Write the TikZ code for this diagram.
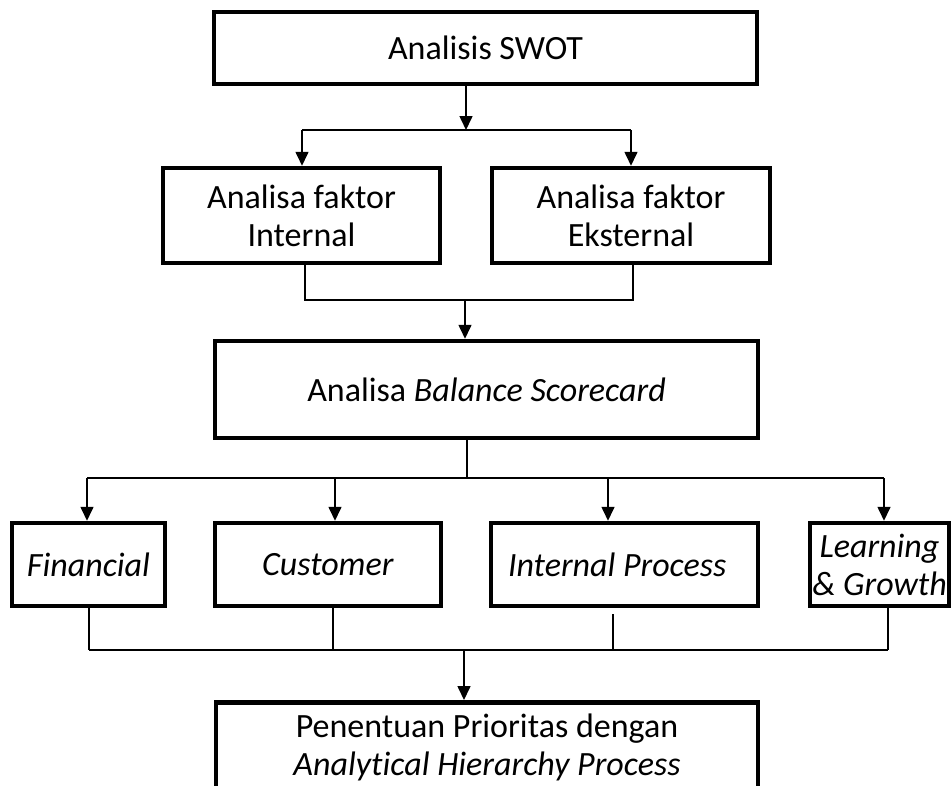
\documentclass[tikz,border=0pt]{standalone}
\usepackage{fontspec}
\setmainfont[Ligatures=NoCommon]{Carlito}
\usetikzlibrary{arrows.meta}
\begin{document}
\begin{tikzpicture}[x=1pt,y=-1pt,
  box/.style={draw,line width=4.5pt,inner sep=0pt,font=\fontsize{34}{38}\selectfont,align=center},
  conn/.style={line width=1.6pt},
  arr/.style={conn,-{Triangle[width=13pt,length=14pt]}}]
\useasboundingbox (0,0) rectangle (952,785);
\clip (0,0) rectangle (952,785);
% boxes
\node[box,minimum width=543pt,minimum height=72pt] (swot) at (485.5,48) {Analisis SWOT};
\node[box,minimum width=277pt,minimum height=95pt] (int) at (301.5,215.5) {Analisa faktor\\Internal};
\node[box,minimum width=278pt,minimum height=95pt] (ext) at (631,215.5) {Analisa faktor\\Eksternal};
\node[box,minimum width=543pt,minimum height=97pt] (bsc) at (486.5,389.5) {Analisa \textit{Balance Scorecard}};
\node[box,minimum width=153pt,minimum height=83pt] (fin) at (88.5,564.5) {\textit{Financial}};
\node[box,minimum width=226pt,minimum height=83pt] (cus) at (328,564.5) {\textit{Customer}};
\node[box,minimum width=267pt,minimum height=83pt] (ip) at (624.5,564.5) {\makebox[233pt][l]{\textit{Internal Process}}};
\node[box,minimum width=139pt,minimum height=83pt] (lg) at (879.5,564.5) {\textit{Learning}\\\textit{\& Growth}};
\node[box,minimum width=542pt,minimum height=91pt,anchor=north] (ahp) at (487,700) {Penentuan Prioritas dengan\\\textit{Analytical Hierarchy Process}};
% connectors: SWOT -> faktor
\coordinate (j1) at (466,130);
\coordinate (jL) at (302,130);
\coordinate (jR) at (631,130);
\draw[arr] (swot.south -| j1) -- (j1);
\draw[conn] (jL) -- (jR);
\draw[arr] (jL) -- (jL |- int.north);
\draw[arr] (jR) -- (jR |- ext.north);
% faktor -> BSC
\coordinate (m1) at (305,300);
\coordinate (m2) at (633,300);
\coordinate (m3) at (465,300);
\draw[conn] (m1 |- int.south) -- (m1) -- (m2) -- (m2 |- ext.south);
\draw[arr] (m3) -- (m3 |- bsc.north);
% BSC -> perspectives
\coordinate (b0) at (467,478);
\coordinate (bL) at (87,478);
\coordinate (bC) at (335,478);
\coordinate (bI) at (608,478);
\coordinate (bR) at (884,478);
\draw[conn] (b0 |- bsc.south) -- (b0);
\draw[conn] (bL) -- (bR);
\draw[arr] (bL) -- (bL |- fin.north);
\draw[arr] (bC) -- (bC |- cus.north);
\draw[arr] (bI) -- (bI |- ip.north);
\draw[arr] (bR) -- (bR |- lg.north);
% perspectives -> AHP
\coordinate (cF) at (89,650);
\coordinate (cC) at (333,650);
\coordinate (cI) at (613,650);
\coordinate (cL) at (888,650);
\coordinate (cM) at (464,650);
\draw[conn] (cF |- fin.south) -- (cF);
\draw[conn] (cC |- cus.south) -- (cC);
\draw[conn] ([yshift=-6pt]cI |- ip.south) -- (cI);
\draw[conn] (cL |- lg.south) -- (cL);
\draw[conn] (cF) -- (cL);
\draw[arr] (cM) -- (cM |- ahp.north);
\end{tikzpicture}
\end{document}
